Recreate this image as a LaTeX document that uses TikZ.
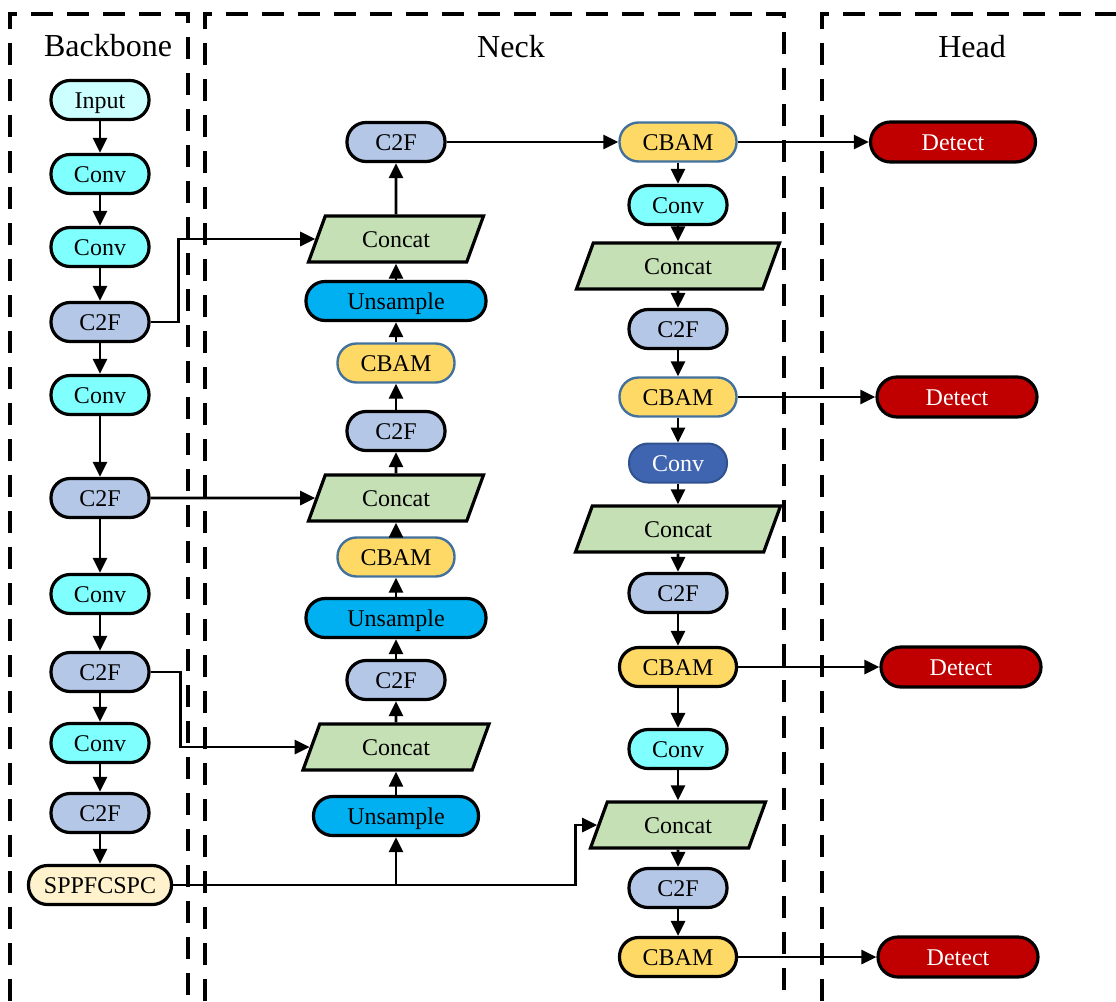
\documentclass[tikz,border=0pt]{standalone}
\usepackage{fontspec}
\setmainfont{Liberation Serif}
\usetikzlibrary{arrows.meta,shapes.geometric}
\definecolor{inputc}{HTML}{CCFFFF}
\definecolor{convc}{HTML}{80FFFF}
\definecolor{ctwofc}{HTML}{B4C7E7}
\definecolor{sppc}{HTML}{FFF2CC}
\definecolor{concatc}{HTML}{C5E0B4}
\definecolor{upc}{HTML}{00B0F0}
\definecolor{cbamc}{HTML}{FFD966}
\definecolor{cbamline}{HTML}{41719C}
\definecolor{darkconvc}{HTML}{4065B0}
\definecolor{darkconvline}{HTML}{2F528F}
\definecolor{detc}{HTML}{C00000}
\newcommand\nodefont{\fontsize{24}{26}\selectfont}
\newcommand\headfont{\fontsize{32}{34}\selectfont}
\tikzset{
  blk/.style={rectangle, rounded corners=19pt, minimum height=39pt, draw=black, line width=3.2pt, font=\nodefont, inner sep=0pt, text height=18pt, text depth=2pt},
  inputbox/.style={blk, fill=inputc, minimum width=98pt},
  convbox/.style={blk, fill=convc, minimum width=98pt},
  darkconvbox/.style={blk, fill=darkconvc, draw=darkconvline, line width=2pt, text=white, minimum width=98pt},
  ctwofbox/.style={blk, fill=ctwofc, minimum width=98pt},
  sppbox/.style={blk, fill=sppc, minimum width=143pt},
  upbox/.style={blk, fill=upc, minimum width=180pt},
  cbambox/.style={blk, fill=cbamc, draw=cbamline, line width=2.4pt, minimum width=117pt},
  cbamblk/.style={blk, fill=cbamc, minimum width=117pt},
  detbox/.style={blk, fill=detc, text=white, minimum width=160pt, minimum height=40pt, rounded corners=20pt},
  concatbox/.style={trapezium, trapezium left angle=50, trapezium right angle=130, trapezium stretches body=true,
     draw=black, line width=3.2pt, fill=concatc, font=\nodefont, minimum height=46pt, minimum width=175pt, inner sep=0pt, text height=18pt, text depth=2pt},
  arr/.style={line width=2.8pt, -{Triangle[length=15pt,width=14pt]}},
  sect/.style={dash pattern=on 22pt off 14pt, line width=3.2pt},
  headlbl/.style={font=\headfont, inner sep=0pt}
}
\begin{document}
\begin{tikzpicture}[x=1pt,y={(0pt,-1pt)}]
\useasboundingbox (0,0) rectangle (1116,1001);
% section frames
\draw[sect] (10,1001) -- (10,14) -- (188,14) -- (188,1001);
\draw[sect] (205,1001) -- (205,14) -- (784,14) -- (784,1001);
\draw[sect] (822,1001) -- (822,14) -- (1116,14);
\node[headlbl] (hb) at (108,46) {Backbone};
\node[headlbl] (hn) at (511,47) {Neck};
\node[headlbl] (hh) at (972,47) {Head};

% backbone
\node[inputbox] (b0) at (100,100) {Input};
\node[convbox]  (b1) at (100,174) {Conv};
\node[convbox]  (b2) at (100,247) {Conv};
\node[ctwofbox] (b3) at (100,322) {C2F};
\node[convbox]  (b4) at (100,395) {Conv};
\node[ctwofbox] (b5) at (100,498) {C2F};
\node[convbox]  (b6) at (100,594) {Conv};
\node[ctwofbox] (b7) at (100,672) {C2F};
\node[convbox]  (b8) at (100,743) {Conv};
\node[ctwofbox] (b9) at (100,813) {C2F};
\node[sppbox]   (spp) at (100,885) {SPPFCSPC};
\foreach \a/\b in {b0/b1,b1/b2,b2/b3,b3/b4,b4/b5,b5/b6,b6/b7,b7/b8,b8/b9,b9/spp}
  \draw[arr] (\a) -- (\b);

% neck column (upward)
\node[ctwofbox]  (n1) at (396,142) {C2F};
\node[concatbox] (n2) at (396,239) {Concat};
\node[upbox]     (n3) at (396,301) {Unsample};
\node[cbambox]   (n4) at (396,363) {CBAM};
\node[ctwofbox]  (n5) at (396,431) {C2F};
\node[concatbox] (n6) at (396,498) {Concat};
\node[cbambox]   (n7) at (396,557) {CBAM};
\node[upbox]     (n8) at (396,618) {Unsample};
\node[ctwofbox]  (n9) at (396,680) {C2F};
\node[concatbox, minimum width=186pt] (n10) at (396,747) {Concat};
\node[upbox, minimum width=165pt] (n11) at (396,816) {Unsample};
\foreach \a/\b in {n11/n10,n10/n9,n9/n8,n8/n7,n7/n6,n6/n5,n5/n4,n4/n3,n3/n2,n2/n1}
  \draw[arr] (\a) -- (\b);

% right column (downward)
\node[cbambox]   (r1) at (678,142) {CBAM};
\node[convbox]   (r2) at (678,205) {Conv};
\node[concatbox, minimum width=203pt] (r3) at (678,266) {Concat};
\node[ctwofbox]  (r4) at (678,329) {C2F};
\node[cbambox]   (r5) at (678,397) {CBAM};
\node[darkconvbox] (r6) at (678,463) {Conv};
\node[concatbox, minimum width=205pt] (r7) at (678,529) {Concat};
\node[ctwofbox]  (r8) at (678,593) {C2F};
\node[cbamblk]   (r9) at (678,667) {CBAM};
\node[convbox]   (r10) at (678,749) {Conv};
\node[concatbox] (r11) at (678,825) {Concat};
\node[ctwofbox]  (r12) at (678,888) {C2F};
\node[cbamblk]   (r13) at (678,957) {CBAM};
\foreach \a/\b in {r1/r2,r2/r3,r3/r4,r4/r5,r5/r6,r6/r7,r7/r8,r8/r9,r9/r10,r10/r11,r11/r12,r12/r13}
  \draw[arr] (\a) -- (\b);

% head
\node[detbox, minimum width=165pt] (d1) at (953,142) {Detect};
\node[detbox] (d2) at (957,397) {Detect};
\node[detbox] (d3) at (961,667) {Detect};
\node[detbox] (d4) at (958,957) {Detect};

% cross connections
\draw[arr] (b3.east) -- ++(28,0) |- (n2);
\draw[arr] (b5.east) -- (n6);
\draw[arr] (b7.east) -- ++(30,0) |- (n10);
\draw[arr] (spp.east) -- (spp.east -| n11) -- (n11.south);
\draw[arr] (spp.east) -- ++(402,0) |- (r11);
\draw[arr] (n1) -- (r1);
\draw[arr] (r1) -- (d1);
\draw[arr] (r5) -- (d2);
\draw[arr] (r9) -- (d3);
\draw[arr] (r13) -- (d4);
\end{tikzpicture}
\end{document}
